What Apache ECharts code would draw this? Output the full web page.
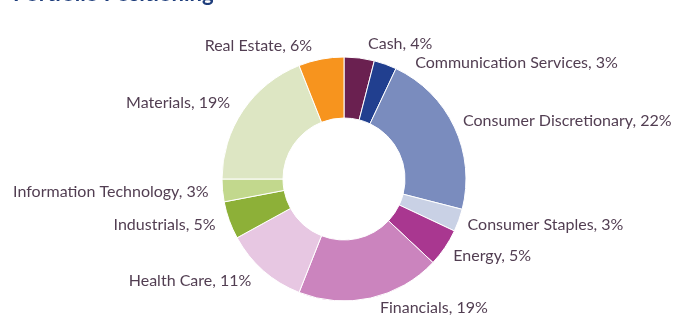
<!DOCTYPE html>
<html>
<head>
<meta charset="utf-8">
<script src="https://cdn.jsdelivr.net/npm/echarts@6/dist/echarts.min.js"></script>
<style>
  html, body { margin: 0; padding: 0; background: #fff; }
  #chart { width: 675px; height: 318px; }
</style>
</head>
<body>
<div id="chart"></div>
<script>
// sectors, clockwise from 12 o'clock
var sectors = ['Cash', 'Communication Services', 'Consumer Discretionary', 'Consumer Staples',
  'Energy', 'Financials', 'Health Care', 'Industrials', 'Information Technology',
  'Materials', 'Real Estate'];
var weights = [4, 3, 22, 3, 5, 19, 11, 5, 3, 19, 6];
var colors = ['#6a2050', '#213f8f', '#7a8cbe', '#c9d1e5', '#a93790', '#cb84be',
  '#e7c7e2', '#8db038', '#c2d88d', '#dde6c3', '#f7941e'];

var chart = echarts.init(document.getElementById('chart'));

var data = sectors.map(function (name, i) {
  return { name: name, value: weights[i], itemStyle: { color: colors[i] } };
});

// mid angle of each slice (radians, clockwise from top) so labels can sit
// fully outside the ring like the excel ones do
var total = weights.reduce(function (a, b) { return a + b; }, 0);
var midAngle = [];
var acc = 0;
weights.forEach(function (w) {
  midAngle.push((acc + w / 2) / total * Math.PI * 2);
  acc += w;
});

chart.setOption({
  animation: false,
  title: {
    text: 'Portfolio Positioning',
    left: 8,
    top: -22,
    textStyle: { color: '#1f3e7c', fontSize: 22, fontWeight: 'bold', fontFamily: 'Lato' }
  },
  series: [{
    type: 'pie',
    center: [344, 179],
    radius: [61, 122],
    startAngle: 90,
    clockwise: true,
    avoidLabelOverlap: true,
    itemStyle: { borderColor: '#fff', borderWidth: 1 },
    label: {
      show: true,
      position: 'outside',
      formatter: '{b}, {c}%',
      color: '#523e52',
      fontFamily: 'Lato',
      fontSize: 16,
      overflow: 'none'
    },
    labelLine: { show: false, length: 6, length2: 3 },
    labelLayout: function (params) {
      var a = midAngle[params.dataIndex];
      var r = params.labelRect;
      var dy = -Math.cos(a) * r.height * 0.5;
      // keep the bottom labels inside the canvas
      dy = Math.min(dy, 316 - (r.y + r.height));
      return { dy: dy };
    },
    data: data
  }]
});
</script>
</body>
</html>
